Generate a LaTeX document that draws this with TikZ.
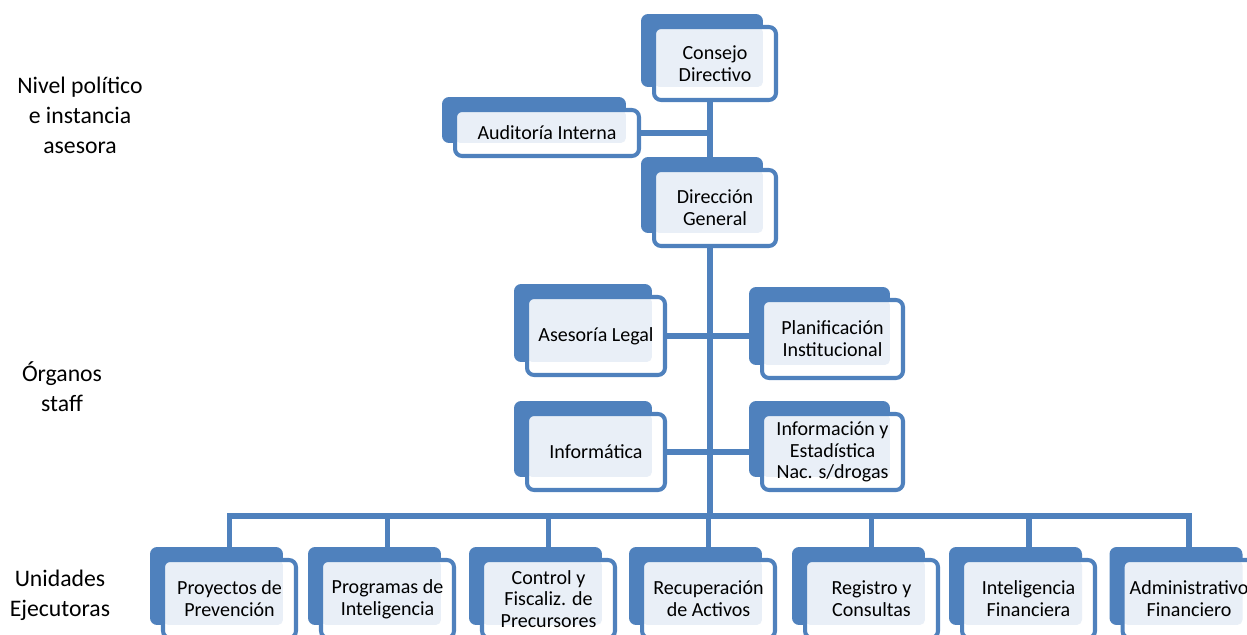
\documentclass[tikz,border=0pt]{standalone}
\usepackage{fontspec}
\setmainfont{Carlito}
\usetikzlibrary{shadows}
\definecolor{orgblue}{HTML}{4F81BD}
\definecolor{orglight}{HTML}{E9EFF7}
\pgfdeclarelayer{back}
\pgfsetlayers{back,main}
\tikzset{
  unit/.style={draw=orgblue, line width=2.3pt, fill=white, rounded corners=4pt,
    align=center, inner sep=0pt, font=\fontsize{11.4}{12.4}\selectfont,
    minimum width=2.66cm, minimum height=1.56cm,
    general shadow={fill=orgblue, shadow xshift=-7.4pt, shadow yshift=7.4pt},
    path picture={\fill[orglight, rounded corners=3pt]
      (path picture bounding box.north west) rectangle
      ([xshift=-7.4pt, yshift=7.4pt]path picture bounding box.south east);}},
  conn/.style={orgblue, line width=3.4pt},
  level/.style={align=center, font=\fontsize{13.5}{17}\selectfont}
}
\begin{document}
\begin{tikzpicture}[x=0.02cm, y=-0.02cm]
\useasboundingbox (0,0) rectangle (1247,635);
% levels on the left
\node[level] (politico) at (80,115) {Nivel político\\e instancia\\asesora};
\node[level] (staff) at (62,387) {Órganos\\staff};
\node[level] (ejecutoras) at (60,595) {Unidades\\Ejecutoras};
% top
\node[unit, minimum width=2.44cm, minimum height=1.46cm] (consejo) at (715,63.5) {Consejo\\Directivo};
\node[unit, minimum width=3.68cm, minimum height=0.92cm] (auditoria) at (547,133) {Auditoría Interna};
\node[unit, minimum width=2.44cm, minimum height=1.52cm] (direccion) at (715,208) {Dirección\\General};
% staff
\node[unit, minimum width=2.76cm] (asesoria) at (596,336) {Asesoría Legal};
\node[unit, minimum width=2.82cm] (planif) at (832.5,339) {Planificación\\Institucional};
\node[unit, minimum width=2.76cm, minimum height=1.52cm] (informatica) at (596,452) {Informática};
\node[unit, minimum width=2.82cm, minimum height=1.52cm] (informacion) at (832.5,452) {Información y\\Estadística\\Nac. s/drogas};
% executing units
\node[unit] (proyectos) at (229.5,599) {Proyectos de\\Prevención};
\node[unit] (programas) at (387.5,599) {Programas de\\Inteligencia};
\node[unit] (control) at (548.5,599) {Control y\\Fiscaliz. de\\Precursores};
\node[unit] (recuperacion) at (708.5,599) {Recuperación\\de Activos};
\node[unit] (registro) at (871.5,599) {Registro y\\Consultas};
\node[unit] (inteligencia) at (1028.5,599) {Inteligencia\\Financiera};
\node[unit] (administrativo) at (1189,599) {Administrativo\\Financiero};
\coordinate (bus) at (710,516);
\begin{pgfonlayer}{back}
\draw[conn] (consejo.south -| bus) -- (direccion.north -| bus);
\draw[conn] (auditoria.east) -- (auditoria.east -| bus);
\draw[conn] (direccion.south -| bus) -- (bus);
\draw[conn] (asesoria.east) -- (asesoria.east -| planif.west);
\draw[conn] (informatica.east) -- (informatica.east -| informacion.west);
\draw[conn] (proyectos.north) -- (proyectos.north |- bus) -- (administrativo.north |- bus) -- (administrativo.north);
\foreach \u in {programas,control,recuperacion,registro,inteligencia}
  \draw[conn] (\u.north |- bus) -- (\u.north);
\end{pgfonlayer}
\end{tikzpicture}
\end{document}
